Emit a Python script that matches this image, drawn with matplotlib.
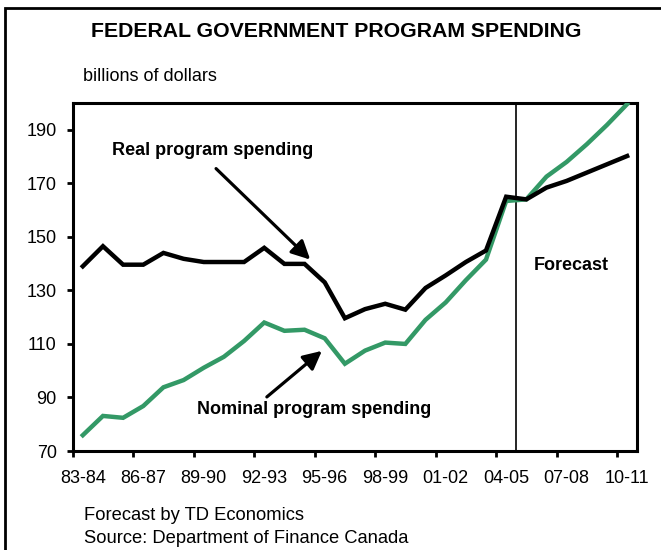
import numpy as np
import matplotlib.pyplot as plt
from matplotlib.patches import Rectangle

plt.rcParams['font.family'] = ['Liberation Sans', 'DejaVu Sans']

# fiscal years 83-84 ... 10-11
years = ['%02d-%02d' % (y % 100, (y + 1) % 100) for y in range(1983, 2011)]
real = [139.0, 146.5, 139.6, 139.6, 144.0, 141.8, 140.6, 140.6, 140.6, 145.9,
        139.9, 139.9, 133.0, 119.6, 123.0, 125.0, 122.8, 130.9, 135.6, 140.6,
        144.9, 165.0, 164.0, 168.4, 170.9, 174.0, 177.1, 180.2]
nominal = [75.9, 83.1, 82.4, 86.8, 93.8, 96.5, 101.1, 105.2, 111.1, 118.0,
           114.9, 115.3, 112.1, 102.6, 107.5, 110.5, 110.0, 119.0, 125.5, 133.8,
           141.5, 163.4, 164.0, 172.5, 178.0, 184.6, 191.8, 199.6]
forecast_start = '05-06'
yticks = [70, 90, 110, 130, 150, 170, 190]

green = '#339966'
x = np.arange(len(years)) + 0.5

fig = plt.figure(figsize=(6.61, 5.5), dpi=100)
ax = fig.add_axes([0.110, 0.180, 0.854, 0.6327])

ax.plot(x, nominal, color=green, lw=3.2, solid_joinstyle='miter', zorder=3)
ax.plot(x, real, color='black', lw=3.2, solid_joinstyle='miter', zorder=4)

# forecast divider
ax.axvline(years.index(forecast_start), color='black', lw=1.2, zorder=2)

ax.set_xlim(0, len(years))
ax.set_ylim(70, 200)
ax.set_yticks(yticks)
ax.set_xticks(np.arange(0, len(years), 3))
ax.set_xticklabels([])
ax.set_xticks(x[::3], minor=True)
ax.set_xticklabels(years[::3], minor=True)
ax.tick_params(axis='x', which='minor', length=0, pad=14, labelsize=13)
ax.tick_params(axis='x', which='major', length=4.5, width=2, direction='out')
ax.tick_params(axis='y', length=4, width=2, direction='out', labelsize=13, pad=7.5)
for s in ax.spines.values():
    s.set_linewidth(2.2)

# labels and pointer arrows
arrow = dict(arrowstyle='-|>', color='black', lw=2.3, mutation_scale=28,
             shrinkA=0, shrinkB=0)
ax.text(6.94, 182.1, 'Real program spending', fontsize=13, fontweight='bold',
        ha='center', va='center')
ax.annotate('', xy=(11.78, 141.5), xytext=(7.11, 175.5), arrowprops=arrow)
ax.text(11.97, 85.5, 'Nominal program spending', fontsize=13, fontweight='bold',
        ha='center', va='center')
ax.annotate('', xy=(12.36, 107.4), xytext=(9.63, 90.2), arrowprops=arrow)
ax.text(24.72, 139.2, 'Forecast', fontsize=13, fontweight='bold',
        ha='center', va='center')

fig.text(0.508, 0.942, 'FEDERAL GOVERNMENT PROGRAM SPENDING', fontsize=15.3,
         fontweight='bold', ha='center', va='center')
fig.text(0.125, 0.861, 'billions of dollars', fontsize=13, ha='left', va='center')
fig.text(0.127, 0.0636, 'Forecast by TD Economics', fontsize=13.2, ha='left', va='center')
fig.text(0.127, 0.0218, 'Source: Department of Finance Canada', fontsize=13.2,
         ha='left', va='center')

# outer frame, open at the right and bottom edges
fig.patches.append(Rectangle((4.5 / 661, -0.1), 1.2, 1 - 8 / 550 + 0.1,
                             transform=fig.transFigure, fill=False,
                             edgecolor='black', lw=2))

fig.savefig('out.png', dpi=100)
